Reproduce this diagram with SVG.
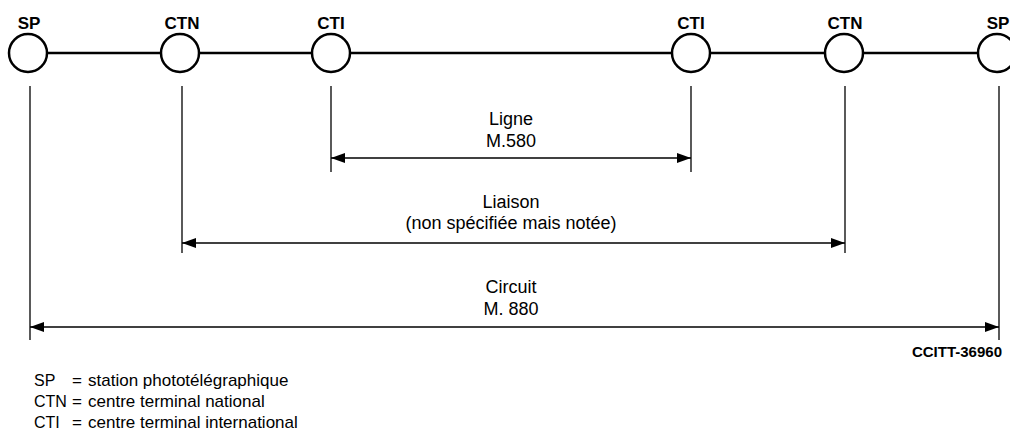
<svg xmlns="http://www.w3.org/2000/svg" width="1010" height="445" viewBox="0 0 1010 445">
<style>
  .node { fill: #fff; stroke: #000; stroke-width: 2.5; }
  .nlabel { font-family: "Liberation Sans", Arial, sans-serif; font-weight: bold; font-size: 17px; text-anchor: middle; fill: #000; }
  .main { stroke: #000; stroke-width: 2.5; fill: none; }
  .ext { stroke: #000; stroke-width: 1.3; fill: none; }
  .dim { stroke: #000; stroke-width: 1.4; fill: none; marker-start: url(#ah); marker-end: url(#ah); }
  .lbl { font-family: "Liberation Sans", Arial, sans-serif; font-size: 18px; text-anchor: middle; fill: #000; }
  .leg { font-family: "Liberation Sans", Arial, sans-serif; font-size: 17px; fill: #000; }
  .abbr { font-family: "Liberation Sans", Arial, sans-serif; font-size: 16px; fill: #000; }
  .ref { font-family: "Liberation Sans", Arial, sans-serif; font-weight: bold; font-size: 15px; text-anchor: end; fill: #000; }
</style>
<defs>
  <marker id="ah" viewBox="0 0 14 10" refX="14" refY="5" markerWidth="14" markerHeight="10" markerUnits="userSpaceOnUse" orient="auto-start-reverse">
    <path d="M0,0 L14,5 L0,10 Z" fill="#000"/>
  </marker>
</defs>
<rect width="1010" height="445" fill="#fff"/>

<g id="connectors">
  <line class="main" x1="47" y1="53" x2="161" y2="53"/>
  <line class="main" x1="199" y1="53" x2="312" y2="53"/>
  <line class="main" x1="350" y1="53" x2="672" y2="53"/>
  <line class="main" x1="710" y1="53" x2="825" y2="53"/>
  <line class="main" x1="863" y1="53" x2="978" y2="53"/>
  <line class="ext" x1="30" y1="86" x2="30" y2="340"/>
  <line class="ext" x1="182" y1="86" x2="182" y2="253"/>
  <line class="ext" x1="331" y1="86" x2="331" y2="172"/>
  <line class="ext" x1="691" y1="86" x2="691" y2="172"/>
  <line class="ext" x1="845" y1="86" x2="845" y2="253"/>
  <line class="ext" x1="999" y1="86" x2="999" y2="340"/>
  <line class="dim" x1="331" y1="158" x2="691" y2="158"/>
  <line class="dim" x1="182" y1="243" x2="845" y2="243"/>
  <line class="dim" x1="30" y1="327" x2="999" y2="327"/>
</g>

<g id="sp1"><circle class="node" cx="28" cy="53" r="19"/><text class="nlabel" x="29" y="29">SP</text></g>
<g id="ctn1"><circle class="node" cx="180" cy="53" r="19"/><text class="nlabel" x="182" y="29">CTN</text></g>
<g id="cti1"><circle class="node" cx="331" cy="53" r="19"/><text class="nlabel" x="331" y="29">CTI</text></g>
<g id="cti2"><circle class="node" cx="691" cy="53" r="19"/><text class="nlabel" x="691" y="29">CTI</text></g>
<g id="ctn2"><circle class="node" cx="844" cy="53" r="19"/><text class="nlabel" x="845" y="29">CTN</text></g>
<g id="sp2"><circle class="node" cx="997" cy="53" r="19"/><text class="nlabel" x="998" y="29">SP</text></g>

<g id="labels">
  <text class="lbl" x="511" y="125">Ligne</text>
  <text class="lbl" x="511" y="147">M.580</text>
  <text class="lbl" x="511" y="208">Liaison</text>
  <text class="lbl" x="511" y="229">(non spécifiée mais notée)</text>
  <text class="lbl" x="511" y="293">Circuit</text>
  <text class="lbl" x="511" y="315">M. 880</text>
  <text class="ref" x="1002" y="357">CCITT-36960</text>
</g>

<g id="legend">
  <text class="abbr" x="34" y="386">SP</text><text class="leg" x="72" y="386">=</text><text class="leg" x="88" y="386">station phototélégraphique</text>
  <text class="abbr" x="34" y="407">CTN</text><text class="leg" x="72" y="407">=</text><text class="leg" x="88" y="407">centre terminal  national</text>
  <text class="abbr" x="34" y="428">CTI</text><text class="leg" x="72" y="428">=</text><text class="leg" x="88" y="428">centre terminal international</text>
</g>
</svg>
